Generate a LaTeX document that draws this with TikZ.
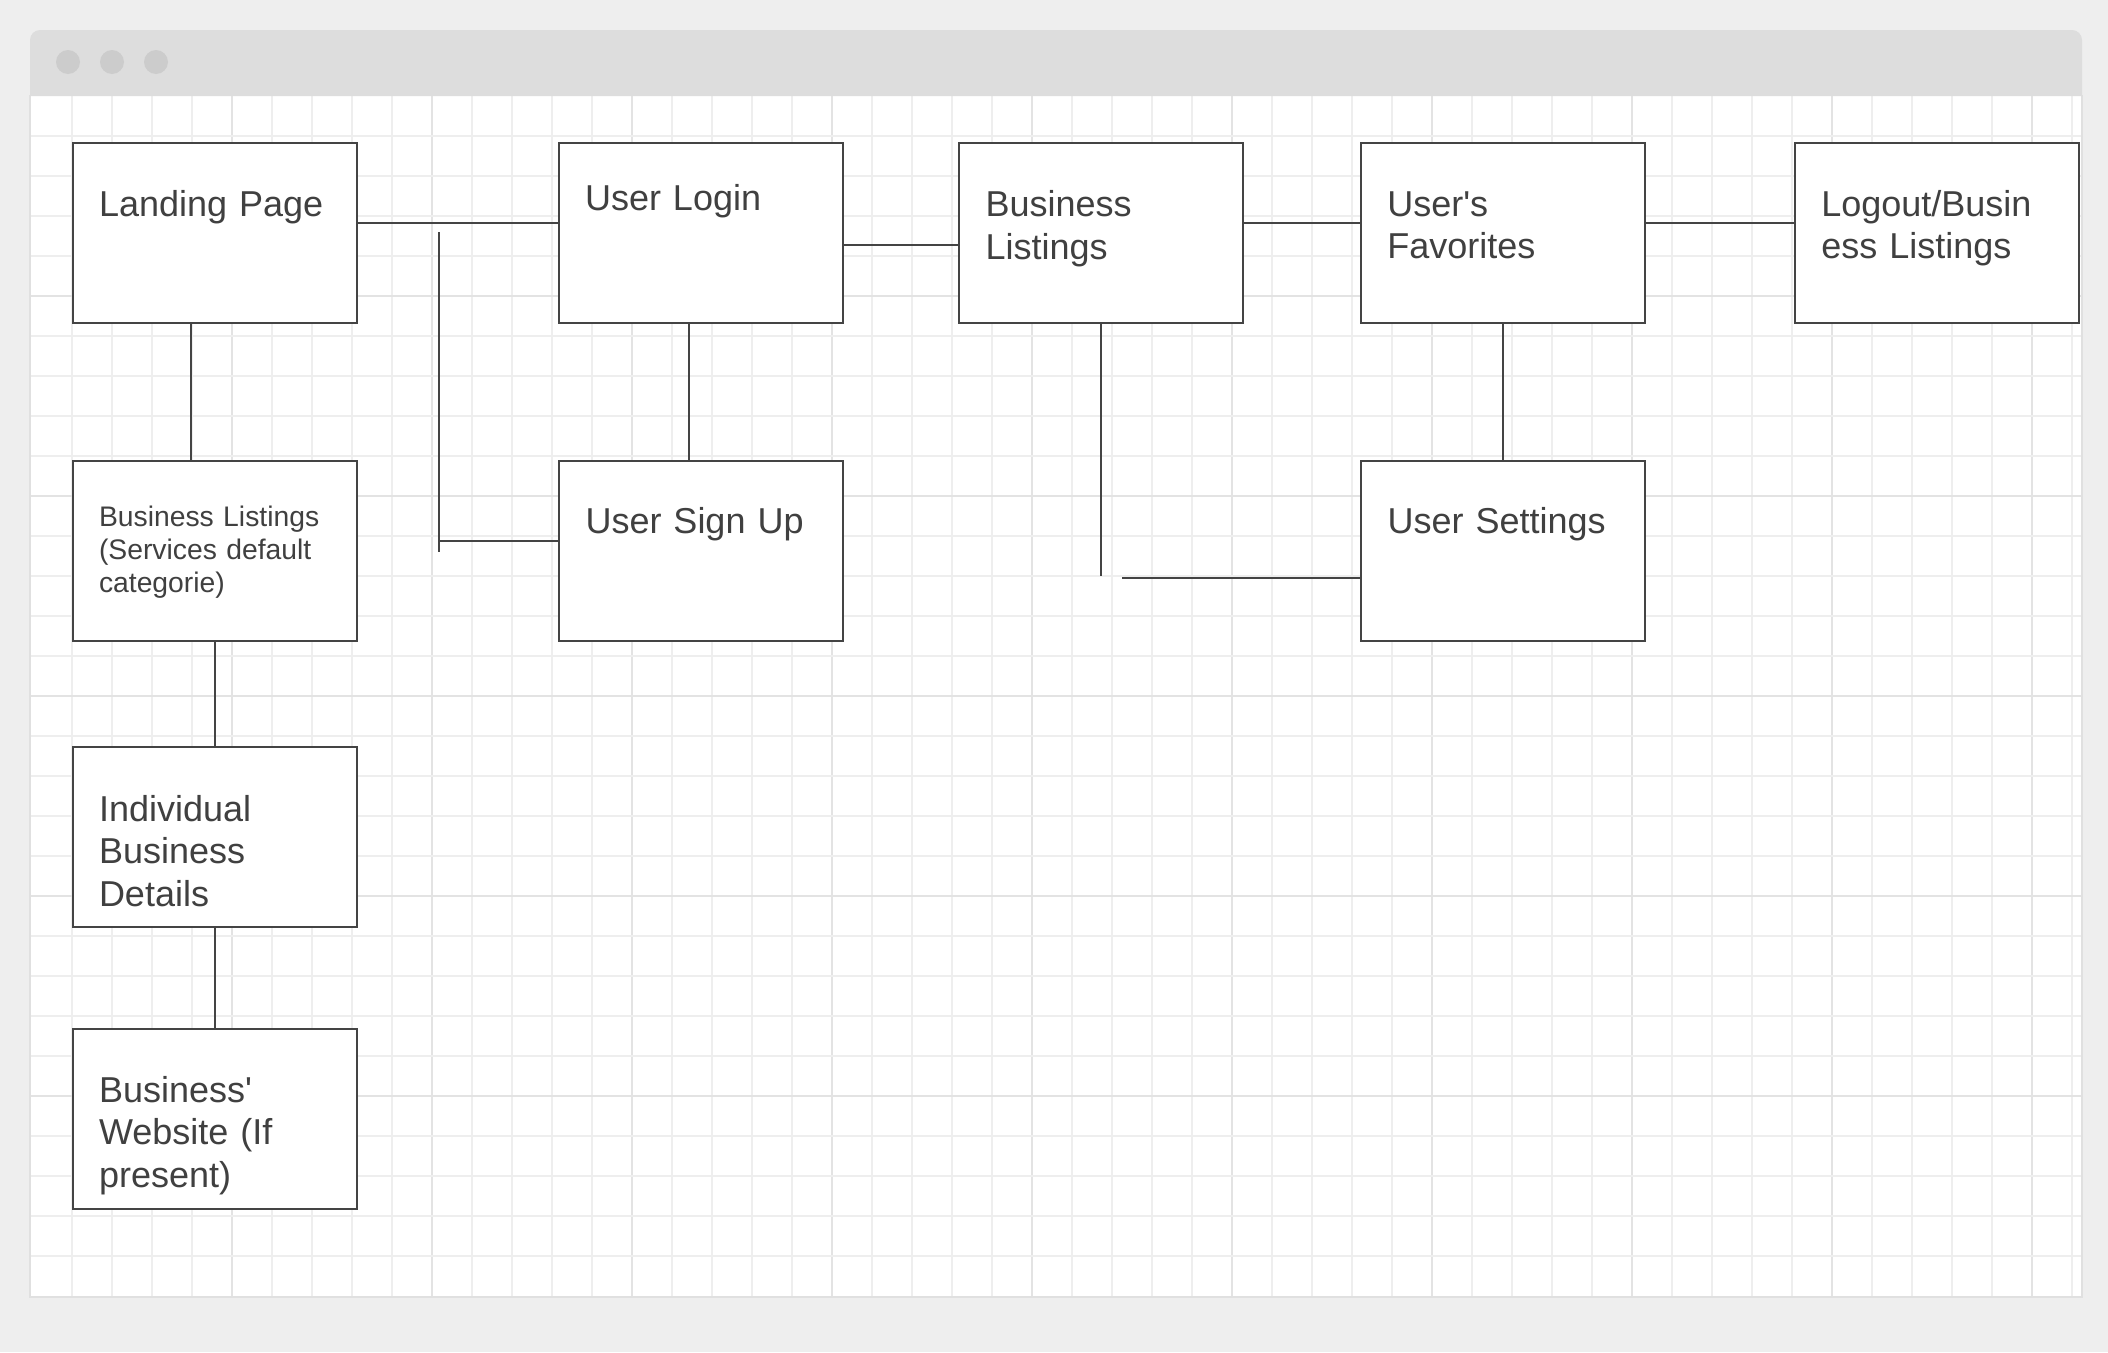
\documentclass[tikz,border=0pt]{standalone}
\usepackage{fontspec}
\setmainfont{Liberation Sans}
\usetikzlibrary{calc}
\definecolor{bg}{HTML}{EEEEEE}
\definecolor{bar}{HTML}{DDDDDD}
\definecolor{dotc}{HTML}{CCCCCC}
\definecolor{gridminor}{HTML}{EEEEEE}
\definecolor{gridmajor}{HTML}{E3E3E3}
\definecolor{edgec}{HTML}{E0E0E0}
\definecolor{ink}{HTML}{444444}
\definecolor{txt}{HTML}{404040}
\begin{document}
\begin{tikzpicture}[x=1pt,y=-1pt,
  box/.style={draw=ink, fill=white, line width=1.8pt, minimum width=284pt, minimum height=180pt, inner sep=0pt, outer sep=0pt},
  lbl/.style={anchor=base west, inner sep=0pt, outer sep=0pt, text=txt, align=left, text width=258pt, font=\fontsize{36}{42.7}\selectfont},
  slbl/.style={lbl, font=\fontsize{28.3}{33.2}\selectfont},
  conn/.style={draw=ink, line width=1.8pt},
  dot/.style={fill=dotc}]
% page background
\fill[bg] (0,0) rectangle (2108,1352);
\useasboundingbox (0,0) rectangle (2108,1352);
% window shadow / edge
\fill[edgec] (29,95) rectangle (2083,1298);
\fill[white] (31,96) rectangle (2081,1296);
% grid
\foreach \k in {1,...,51}{
  \pgfmathsetmacro{\gx}{31.7+40*\k}
  \pgfmathtruncatemacro{\m}{mod(\k,5)}
  \ifnum\m=0
    \draw[gridmajor, line width=1.6pt] (\gx,96) -- (\gx,1296);
  \else
    \draw[gridminor, line width=1.6pt] (\gx,96) -- (\gx,1296);
  \fi
}
\foreach \k in {1,...,29}{
  \pgfmathsetmacro{\gy}{95.7+40*\k}
  \pgfmathtruncatemacro{\m}{mod(\k,5)}
  \ifnum\m=0
    \draw[gridmajor, line width=1.6pt] (31,\gy) -- (2081,\gy);
  \else
    \draw[gridminor, line width=1.6pt] (31,\gy) -- (2081,\gy);
  \fi
}
% title bar
\fill[bar] (30,96) [rounded corners=10pt] -- (30,30) -- (2082,30) [sharp corners] -- (2082,96) -- cycle;
\fill[dot] (68,62) circle (12);
\fill[dot] (112,62) circle (12);
\fill[dot] (156,62) circle (12);
% boxes
\node[box] (lp)  at (215,233)   {};
\node[box] (ul)  at (701,233)   {};
\node[box] (bl)  at (1101,233)  {};
\node[box] (fav) at (1503,233)  {};
\node[box] (lo)  at (1937,233)  {};
\node[box] (bls) at (215,551)   {};
\node[box] (su)  at (701,551)   {};
\node[box] (us)  at (1503,551)  {};
\node[box] (ind) at (215,836.7) {};
\node[box] (web) at (215,1119)  {};
% labels
\node[lbl]  (lpT)  at ($(lp.north west)+(26,73.5)$)    {Landing Page};
\node[lbl]  (ulT)  at ($(ul.north west)+(26,67.5)$)    {User Login};
\node[lbl]  (blT)  at ($(bl.north west)+(26.5,73.5)$)  {Business\\Listings};
\node[lbl]  (favT) at ($(fav.north west)+(26.3,73)$) {User\textquotesingle s\\Favorites};
\node[lbl]  (loT)  at ($(lo.north west)+(26.3,73)$)  {Logout/Busin\\ess Listings};
\node[slbl] (blsT) at ($(bls.north west)+(26,65.5)$)   {Business Listings\\(Services default\\categorie)};
\node[lbl]  (suT)  at ($(su.north west)+(26.5,72.5)$)  {User Sign Up};
\node[lbl]  (usT)  at ($(us.north west)+(26.5,72.5)$)  {User Settings};
\node[lbl]  (indT) at ($(ind.north west)+(26,74.5)$)   {Individual\\Business\\Details};
\node[lbl]  (webT) at ($(web.north west)+(26,73)$) {Business\textquotesingle\\Website (If\\present)};
% connectors
\draw[conn] ($(lp.north east)+(0,79.7)$) -- ($(ul.north west)+(0,79.7)$);
\coordinate (brT) at (439,232.3);
\coordinate (brB) at (439,551.7);
\draw[conn] (brT) -- (brB);
\coordinate (suIn) at ($(su.north west)+(0,80)$);
\draw[conn] (suIn) -- (brT |- suIn);
\draw[conn] ($(ul.south)+(-12,0)$) -- ($(su.north)+(-12,0)$);
\draw[conn] ($(ul.north east)+(0,102)$) -- ($(bl.north west)+(0,102)$);
\draw[conn] ($(bl.north east)+(0,79.7)$) -- ($(fav.north west)+(0,79.7)$);
\draw[conn] ($(fav.north east)+(0,79.7)$) -- ($(lo.north west)+(0,79.7)$);
\coordinate (blEnd) at ($(bl.south)+(0,252.7)$);
\draw[conn] (bl.south) -- (blEnd);
\coordinate (usIn) at ($(us.north west)+(0,116.7)$);
\coordinate (hStart) at (1122,577.7);
\draw[conn] (hStart) -- (usIn);
\draw[conn] (fav.south) -- (us.north);
\draw[conn] ($(lp.south)+(-24,0)$) -- ($(bls.north)+(-24,0)$);
\draw[conn] (bls.south) -- (ind.north);
\draw[conn] (ind.south) -- (web.north);
\end{tikzpicture}
\end{document}
